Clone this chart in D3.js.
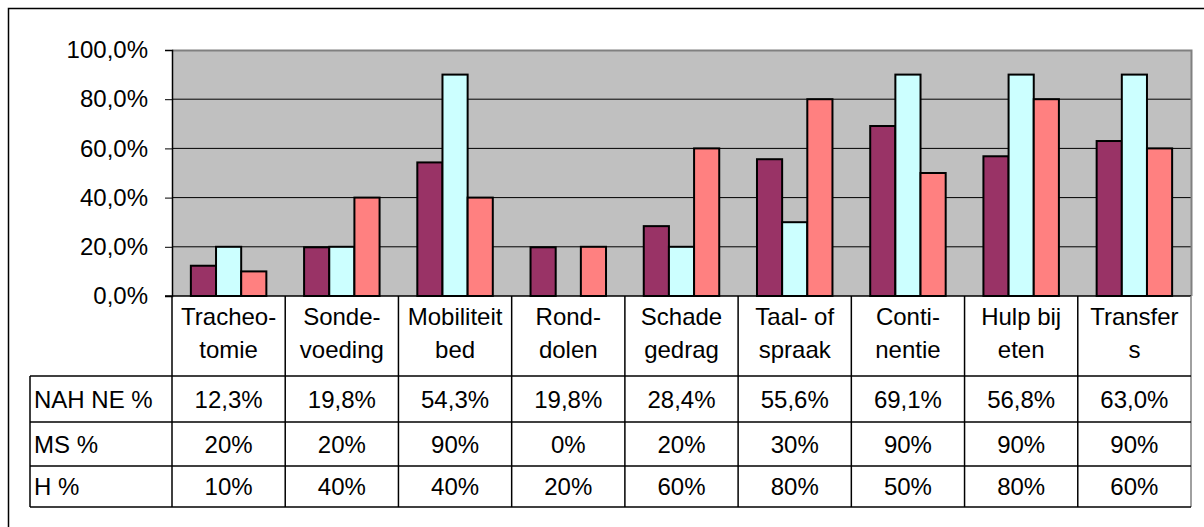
<!DOCTYPE html>
<html lang="nl">
<head>
  <meta charset="utf8">
  <script src="https://cdn.jsdelivr.net/npm/d3@7"></script>
  <title>Zorgbehoefte</title>
  <style>
    body { margin: 0; background: #fff; }
    text { font-family: Arial, "Liberation Sans", sans-serif; fill: #000; }
  </style>
</head>
<body>
<div id="chart"></div>
<script>
  // data
  var categories = [["Tracheo-", "tomie"], ["Sonde-", "voeding"], ["Mobiliteit", "bed"], ["Rond-", "dolen"],
    ["Schade", "gedrag"], ["Taal- of", "spraak"], ["Conti-", "nentie"], ["Hulp bij", "eten"], ["Transfer", "s"]];
  var seriesNames = ["NAH NE %", "MS %", "H %"];
  var nahNE = [12.3, 19.8, 54.3, 19.8, 28.4, 55.6, 69.1, 56.8, 63.0];
  var ms = [20, 20, 90, 0, 20, 30, 90, 90, 90];
  var h = [10, 40, 40, 20, 60, 80, 50, 80, 60];
  var nahLabels = ["12,3%", "19,8%", "54,3%", "19,8%", "28,4%", "55,6%", "69,1%", "56,8%", "63,0%"];
  var msLabels = ["20%", "20%", "90%", "0%", "20%", "30%", "90%", "90%", "90%"];
  var hLabels = ["10%", "40%", "40%", "20%", "60%", "80%", "50%", "80%", "60%"];
  var yTicks = [0, 20, 40, 60, 80, 100];
  var colors = ["#993366", "#ccffff", "#ff8080"];

  var series = [nahNE, ms, h];
  var rowLabels = [nahLabels, msLabels, hLabels];

  var width = 1204, height = 527;
  var plotL = 172, plotR = 1191, plotT = 50, plotB = 296;
  var tableL = 30, catB = 376, rowY = [376, 422, 466, 507];

  var svg = d3.select("#chart").append("svg")
    .attr("width", width).attr("height", height);

  // outer frame
  svg.append("rect").attr("x", 8.5).attr("y", 8.5)
    .attr("width", 1210).attr("height", 540)
    .attr("fill", "none").attr("stroke", "#000").attr("stroke-width", 1.5);

  var x = d3.scaleBand().domain(d3.range(categories.length)).range([plotL, plotR]);
  var xs = d3.scaleBand().domain(d3.range(series.length))
    .range([0, x.bandwidth()]).paddingInner(0).paddingOuter(0.75);
  var y = d3.scaleLinear().domain([0, 100]).range([plotB, plotT]);

  // plot area
  svg.append("rect").attr("x", plotL).attr("y", plotT)
    .attr("width", plotR - plotL).attr("height", plotB - plotT)
    .attr("fill", "#c0c0c0");

  svg.append("g").selectAll("line")
    .data(yTicks.filter(function (d) { return d > 0 && d < 100; }))
    .enter().append("line")
    .attr("x1", plotL).attr("x2", plotR)
    .attr("y1", function (d) { return y(d); }).attr("y2", function (d) { return y(d); })
    .attr("stroke", "#000").attr("stroke-width", 1);

  // plot border (grey top & right)
  svg.append("path")
    .attr("d", "M" + plotL + "," + (plotT + 0.5) + "H" + (plotR + 0.5) + "V" + plotB)
    .attr("fill", "none").attr("stroke", "#808080").attr("stroke-width", 2);

  // bars
  var groups = svg.append("g").selectAll("g")
    .data(series).enter().append("g")
    .attr("fill", function (d, i) { return colors[i]; });

  groups.each(function (vals, si) {
    d3.select(this).selectAll("rect")
      .data(vals).enter().append("rect")
      .attr("x", function (d, i) { return x(i) + xs(si); })
      .attr("y", function (d) { return y(d); })
      .attr("width", xs.bandwidth())
      .attr("height", function (d) { return plotB - y(d); })
      .attr("stroke", "#000").attr("stroke-width", 2)
      .attr("display", function (d) { return d > 0 ? null : "none"; });
  });

  // y axis
  var yAxis = d3.axisLeft(y).tickValues(yTicks).tickSize(7).tickPadding(17)
    .tickFormat(function (d) { return d3.format(".1f")(d).replace(".", ",") + "%"; });
  var ya = svg.append("g").attr("transform", "translate(" + plotL + ",0)").call(yAxis);
  ya.select(".domain").attr("stroke", "#000").attr("stroke-width", 1.5);
  ya.selectAll(".tick line").attr("stroke", "#000");
  ya.selectAll("text").style("font-size", "24px").attr("font-family", null);

  // table lines
  var tbl = svg.append("g").attr("stroke", "#000").attr("stroke-width", 1.5);
  tbl.append("line").attr("x1", plotL - 7).attr("x2", plotR).attr("y1", plotB).attr("y2", plotB);
  d3.range(categories.length + 1).forEach(function (i) {
    var xx = i < categories.length ? x(i) : plotR;
    tbl.append("line").attr("x1", xx).attr("x2", xx).attr("y1", plotB).attr("y2", rowY[3])
      .attr("stroke", i === categories.length ? "#808080" : "#000");
  });
  rowY.forEach(function (yy) {
    tbl.append("line").attr("x1", tableL).attr("x2", plotR).attr("y1", yy).attr("y2", yy);
  });
  tbl.append("line").attr("x1", tableL).attr("x2", tableL).attr("y1", rowY[0]).attr("y2", rowY[3]);

  // category labels
  var cat = svg.append("g").style("font-size", "24px").attr("text-anchor", "middle");
  categories.forEach(function (c, i) {
    cat.append("text").attr("x", x(i) + x.bandwidth() / 2).attr("y", 325).text(c[0]);
    cat.append("text").attr("x", x(i) + x.bandwidth() / 2).attr("y", 358).text(c[1]);
  });

  // data rows
  var rows = svg.append("g").style("font-size", "24px");
  seriesNames.forEach(function (name, r) {
    var cy = (rowY[r] + rowY[r + 1]) / 2;
    rows.append("text").attr("x", tableL + 4).attr("y", cy).attr("dy", "0.36em").text(name);
    rowLabels[r].forEach(function (lab, i) {
      rows.append("text").attr("x", x(i) + x.bandwidth() / 2).attr("y", cy)
        .attr("dy", "0.36em").attr("text-anchor", "middle").text(lab);
    });
  });
</script>
</body>
</html>
